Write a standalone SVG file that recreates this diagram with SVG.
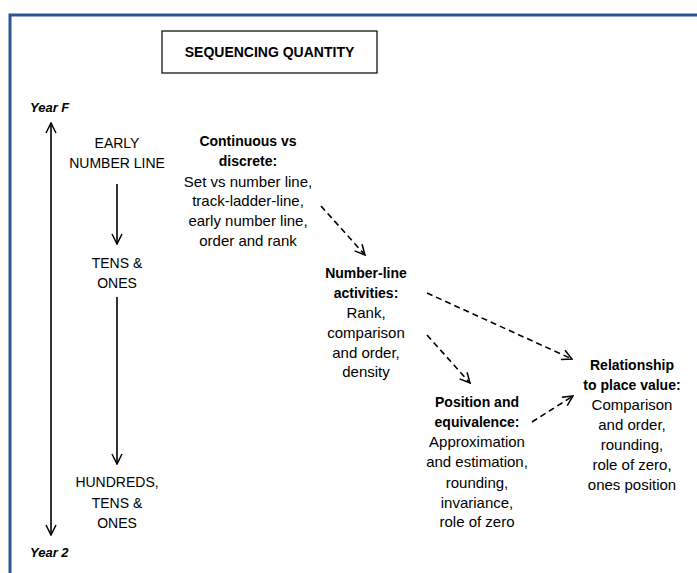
<svg xmlns="http://www.w3.org/2000/svg" width="697" height="573" viewBox="0 0 697 573">
<defs>
<style>
text{font-family:"Liberation Sans",Arial,sans-serif;fill:#000;text-anchor:middle}
.r{font-size:15px}
.c{font-size:14px}
.b{font-size:14px;font-weight:bold}
.t{font-size:14px;font-weight:bold}
.y{font-size:13px;font-weight:bold;font-style:italic;text-anchor:start}
.sol{stroke:#000;stroke-width:1.6;fill:none}
.dash{stroke:#000;stroke-width:1.6;fill:none;stroke-dasharray:6 4}
</style>
<marker id="ah" viewBox="0 0 12 12" refX="11" refY="6" markerWidth="12" markerHeight="12" markerUnits="userSpaceOnUse" orient="auto-start-reverse">
<path d="M1,1 L11,6 L1,11" fill="none" stroke="#000" stroke-width="1.5"/>
</marker>
</defs>
<rect width="697" height="573" fill="#fff"/>
<path d="M10,573 V15 H697" fill="none" stroke="#2c5591" stroke-width="3"/>
<g id="title">
<rect x="162" y="31" width="215" height="42" fill="#fff" stroke="#000" stroke-width="1.2"/>
<text class="t" x="269.5" y="57">SEQUENCING QUANTITY</text>
</g>
<g id="yearF"><text class="y" x="30" y="112">Year F</text></g>
<g id="year2"><text class="y" x="30" y="557">Year 2</text></g>
<g id="early"><text class="c" x="117" y="148">EARLY</text><text class="c" x="117" y="168">NUMBER LINE</text></g>
<g id="tens"><text class="c" x="117" y="268">TENS &amp;</text><text class="c" x="117" y="288">ONES</text></g>
<g id="hundreds"><text class="c" x="117" y="487">HUNDREDS,</text><text class="c" x="117" y="508">TENS &amp;</text><text class="c" x="117" y="528">ONES</text></g>
<g id="continuous">
<text class="b" x="248" y="146">Continuous vs</text>
<text class="b" x="248" y="166">discrete:</text>
<text class="r" x="248" y="187">Set vs number line,</text>
<text class="r" x="248" y="206">track-ladder-line,</text>
<text class="r" x="248" y="226">early number line,</text>
<text class="r" x="248" y="246">order and rank</text>
</g>
<g id="numberline">
<text class="b" x="366" y="278">Number-line</text>
<text class="b" x="366" y="298">activities:</text>
<text class="r" x="366" y="318">Rank,</text>
<text class="r" x="366" y="338">comparison</text>
<text class="r" x="366" y="358">and order,</text>
<text class="r" x="366" y="377">density</text>
</g>
<g id="position">
<text class="b" x="477" y="407">Position and</text>
<text class="b" x="477" y="427">equivalence:</text>
<text class="r" x="477" y="447">Approximation</text>
<text class="r" x="477" y="467">and estimation,</text>
<text class="r" x="477" y="488">rounding,</text>
<text class="r" x="477" y="508">invariance,</text>
<text class="r" x="477" y="527">role of zero</text>
</g>
<g id="relationship">
<text class="b" x="632" y="370">Relationship</text>
<text class="b" x="632" y="390">to place value:</text>
<text class="r" x="632" y="410">Comparison</text>
<text class="r" x="632" y="430">and order,</text>
<text class="r" x="632" y="450">rounding,</text>
<text class="r" x="632" y="470">role of zero,</text>
<text class="r" x="632" y="490">ones position</text>
</g>
<g id="connectors">
<line class="sol" x1="51" y1="123" x2="51" y2="535" marker-start="url(#ah)" marker-end="url(#ah)"/>
<line class="sol" x1="117" y1="184" x2="117" y2="244" marker-end="url(#ah)"/>
<line class="sol" x1="117" y1="297" x2="117" y2="464" marker-end="url(#ah)"/>
<line class="dash" x1="321" y1="206" x2="365" y2="255" marker-end="url(#ah)"/>
<line class="dash" x1="427" y1="293" x2="572" y2="359" marker-end="url(#ah)"/>
<line class="dash" x1="427" y1="335" x2="470" y2="383" marker-end="url(#ah)"/>
<line class="dash" x1="532" y1="422" x2="573" y2="396" marker-end="url(#ah)"/>
</g>
</svg>
